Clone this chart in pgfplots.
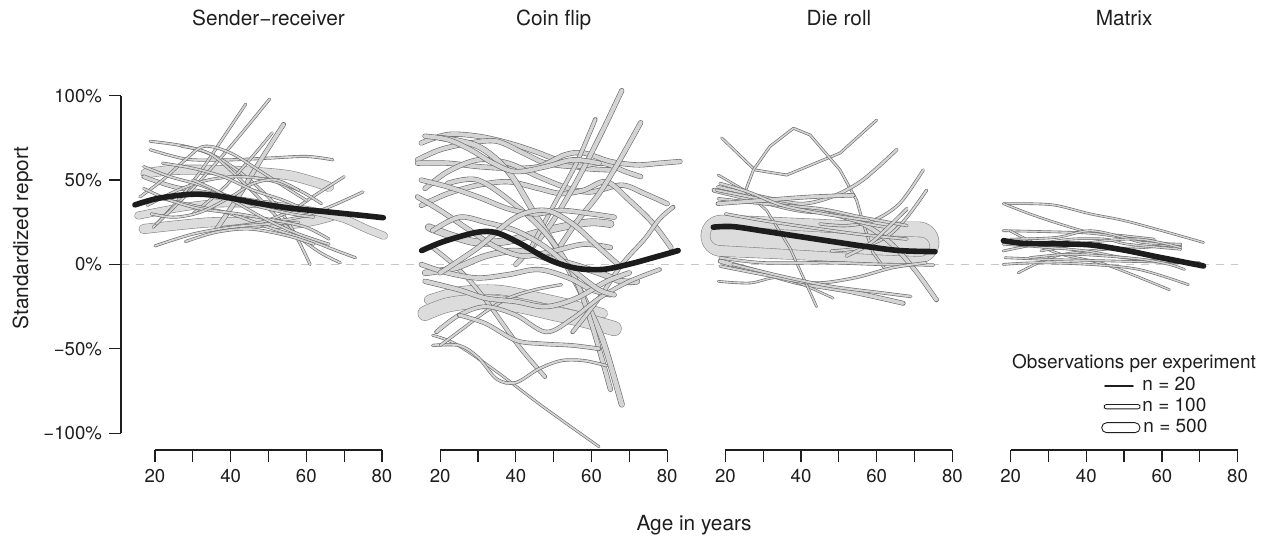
\documentclass[border=0pt]{standalone}
\usepackage{fontspec}
\setmainfont{TeX Gyre Heros}
\usepackage{pgfplots}
\pgfplotsset{compat=1.18}

\definecolor{tubeedge}{RGB}{105,105,105}
\definecolor{tubefill}{RGB}{212,212,212}
\definecolor{bigedge}{RGB}{135,135,135}
\definecolor{bigfill}{RGB}{220,220,220}
\definecolor{trend}{RGB}{28,28,28}
\definecolor{zeroline}{RGB}{200,200,200}
\definecolor{ink}{RGB}{30,30,30}

\tikzset{
  tube/.style={draw=tubeedge, line width=0.3pt, double=tubefill, double distance=#1, line cap=round, line join=round},
  bigtube/.style={draw=bigedge, line width=0.3pt, double=bigfill, double distance=#1, line cap=round, line join=round},
  trendline/.style={draw=trend, line width=2.8pt, line cap=round, line join=round},
  axisline/.style={draw=ink, line width=0.75pt},
}

% one experiment: smoothed curve / straight segments; width = tube thickness
\newcommand{\tb}[2]{\addplot[tube=#1, smooth, tension=0.55] coordinates {#2};}
\newcommand{\tbl}[2]{\addplot[tube=#1] coordinates {#2};}
\newcommand{\bigtb}[2]{\addplot[bigtube=#1, smooth, tension=0.55] coordinates {#2};}
\newcommand{\trend}[1]{\addplot[trendline, smooth, tension=0.55] coordinates {#1};}

\pgfplotsset{
  panel/.style={
    scale only axis, width=141.86pt, height=177.2pt,
    xmin=11, xmax=86, ymin=-110, ymax=100,
    axis lines*=left, axis line style={draw=none},
    clip=false,
    xtick={20,30,...,80}, xticklabels={20,,40,,60,,80},
    tick align=outside, major tick length=6pt,
    tick style={ink, line width=0.6pt},
    tick label style={font=\fontsize{9.3}{11}\selectfont, text=ink},
    ytick=\empty,
  },
}

\begin{document}
\begin{tikzpicture}[x=0.5pt, y=0.5pt]
\path[use as bounding box] (0,0) rectangle (1273,544);

% reference line at 0%
\draw[zeroline, line width=0.65pt, dash pattern=on 4pt off 3.5pt] (121,279.5) -- (1238,279.5);

% ---------------- Sender-receiver ----------------
\begin{axis}[panel, at={(60.475pt,46.95pt)}, anchor=south west,
  ytick={-100,-50,0,50,100},
  yticklabels={−100\%,−50\%,0\%,50\%,100\%}]
\bigtb{4.4pt}{(17.5,54) (25,56) (35,56) (45,55) (55,53) (62,49) (66,46)}
\bigtb{4.4pt}{(17,21) (25,23) (35,25) (45,25) (55,24) (62,26) (67,29)}
\bigtb{3.4pt}{(15.6,29) (25,33) (35,36) (45,36) (55,34) (63,31) (70,27) (76,21) (80.5,17)}
\tb{1.6pt}{(17,52) (25,46) (35,42) (45,38) (52,36)}
\tb{0.9pt}{(18.7,68) (25,64) (30,62) (40,62) (50,63) (60,64) (67,62)}
\tb{0.9pt}{(18.7,73) (28,70) (36,64) (44,52) (52,35) (57,18) (61,0)}
\tb{0.9pt}{(19.5,22) (25,35) (32,55) (38,75) (44,95)}
\tb{0.9pt}{(20.4,24) (30,45) (40,70) (50.3,98)}
\tb{1.8pt}{(36,20) (42,40) (48,62) (54,83)}
\tb{0.9pt}{(30,30) (38,45) (45,62) (51,78)}
\tb{0.9pt}{(27,70) (35,65) (45,45) (55,22) (63,8) (69,1)}
\tb{0.9pt}{(20,40) (30,35) (40,30) (50,22) (60,15) (67,9) (73,4)}
\tb{0.9pt}{(38,22) (48,25) (56,32) (63,42) (70,52)}
\tb{0.9pt}{(50,25) (58,28) (66,34) (75,43)}
\tb{0.9pt}{(20,11) (30,18) (40,22) (50,24) (58,25)}
\tb{0.9pt}{(28,13.5) (36,19) (45,21) (55,17) (62,12)}
\tb{0.9pt}{(16,40) (22,50) (28,62) (33,70) (40,66) (48,55) (55,45) (60,38)}
\tb{0.9pt}{(17,45) (24,38) (32,33) (42,30) (52,26) (60,22) (66,15)}
\tb{0.9pt}{(18,35) (26,44) (34,50) (42,52) (50,50) (58,44) (64,36)}
\tb{0.9pt}{(19,30) (25,28) (32,31) (40,40) (46,48) (52,50) (58,44)}
\tb{0.9pt}{(17,58) (24,52) (32,47) (40,40) (48,34) (56,30) (62,28)}
\tb{0.9pt}{(22,60) (30,57) (38,52) (46,44) (54,38) (60,32)}
\tb{0.9pt}{(30,50) (36,44) (42,36) (50,26) (58,18) (66,12)}
\trend{(14.7,35.3) (20.9,39.2) (29.7,41.6) (36.7,40.6) (47.3,36.2) (56.1,33.3) (64.9,31.3) (73.7,29.3) (80.35,27.7)}
\draw[axisline] (axis cs:11,-100) -- (axis cs:11,100);
\draw[axisline] (axis cs:20,-110) -- (axis cs:80,-110);
\end{axis}

% ---------------- Coin flip ----------------
\begin{axis}[panel, at={(203.075pt,46.95pt)}, anchor=south west]
\bigtb{4.4pt}{(17,-21) (25,-16) (35,-15) (45,-19) (55,-24) (63,-29)}
\bigtb{6.9pt}{(16,-29) (22,-24) (30,-22) (40,-24) (50,-29) (58,-33) (66,-38)}
\tb{2.0pt}{(15,72) (22,77) (30,76) (38,72) (45,67) (52,61) (58,57) (66,56)}
\tb{2.0pt}{(14,62) (20,68) (28,72) (35,73) (42,66) (48,60) (56,58) (63,60) (69,55) (73,52)}
\tb{2.0pt}{(14,60) (22,60) (30,58) (38,57) (46,58) (53,65) (58,66) (65,61) (72,59) (78,60) (83.4,61)}
\tb{2.0pt}{(16,45) (22,55) (30,62) (38,60) (46,52) (54,45) (60,43) (68,47) (74,42) (80,36)}
\tb{2.0pt}{(15,35) (22,42) (30,47) (38,49) (46,45) (52,42) (58,44) (64,49) (70,38) (76,25) (81,10)}
\tb{3.3pt}{(17,22) (23,17) (30,13) (38,14) (46,19) (54,23) (60,25) (65,24)}
\tb{2.0pt}{(40,0) (48,20) (55,45) (62,75) (68,103)}
\tb{2.0pt}{(50,5) (56,25) (62,42) (67,60) (73,84)}
\tb{1.6pt}{(44,10) (50,35) (56,60) (61,86)}
\tb{2.4pt}{(20,75) (30,70) (38,55) (45,30) (52,5) (58,-20) (63,-45) (68,-83)}
\tb{2.0pt}{(22,48) (30,50) (40,35) (48,18) (55,-5) (60,-35) (65,-74)}
\tb{1.6pt}{(18,10) (23,1) (28,-10) (33,-24) (41,-49) (47.7,-66.5)}
\tb{0.8pt}{(18,-42) (24,-47) (34,-62) (47,-84) (62,-108)}
\tb{1.0pt}{(18,-48) (25,-48) (30,-55) (35,-68) (40,-70) (46,-62) (52,-57) (58,-57) (64,-60)}
\tb{1.0pt}{(20,-48) (26,-38) (32,-28) (38,-20) (45,-15) (52,-12)}
\tb{1.6pt}{(55,-40) (62,-20) (68,0) (74,15) (78,27) (81.6,34)}
\tb{2.6pt}{(16,-5) (24,-2) (32,5) (40,8) (48,4) (55,0) (62,-5) (68,-10) (72,-10)}
\tb{2.0pt}{(15,0) (22,-5) (30,-8) (38,-6) (46,-3) (54,-8) (60,-15) (65,-18)}
\tb{2.0pt}{(16,-10) (25,-15) (32,-20) (40,-22) (48,-25) (56,-20) (64,-10) (70,-5)}
\tb{1.6pt}{(19,-40) (25,-30) (32,-25) (40,-30) (48,-40) (55,-32) (62,-20) (70,-10) (78,-3)}
\tb{2.0pt}{(14,40) (20,32) (28,20) (35,10) (42,5) (50,8) (58,12) (65,10)}
\tb{2.0pt}{(18,20) (25,28) (32,25) (40,20) (48,10) (56,-5) (62,-15) (66,-18)}
\tb{2.0pt}{(16,76) (22,74) (28,68) (34,60) (40,55) (48,58) (55,62) (62,60)}
\tb{2.0pt}{(15,50) (22,46) (30,40) (38,33) (45,30) (52,32) (60,30) (66,28)}
\tb{1.6pt}{(25,-30) (32,-35) (40,-45) (47,-47) (55,-48) (62,-50)}
\tb{2.0pt}{(20,-5) (30,10) (40,28) (48,32) (55,24) (62,10) (67,0)}
\trend{(15.1,8.2) (20.8,13.5) (29.6,19.0) (34.9,18.8) (41.1,12.5) (49.0,2.6) (56.1,-2.3) (63.1,-2.9) (70.2,0.3) (77.2,4.6) (82.9,8.2)}
\draw[axisline] (axis cs:20,-110) -- (axis cs:80,-110);
\end{axis}

% ---------------- Die roll ----------------
\begin{axis}[panel, at={(345.675pt,46.95pt)}, anchor=south west]
\bigtb{20.4pt}{(19,17) (30,16) (45,14.5) (60,13) (71,13)}
\bigtb{9.4pt}{(18.5,17) (30,15.5) (45,13.5) (60,11.5) (71.5,10.5)}
\tbl{0.8pt}{(19,75) (27.8,56) (36.2,53) (50.3,66) (60,85.6)}
\tbl{0.8pt}{(24.7,40) (27.4,56) (31.8,70) (38,80.7) (42.4,76.7) (50.3,56) (54.7,38) (56.5,24) (59,7) (62,-2)}
\tb{1.2pt}{(18,46) (30,40) (40,36) (48,40) (55,48) (60,57) (65.3,68)}
\tb{1.0pt}{(45,24) (52,23) (59,26) (66,36) (72.3,56)}
\tb{1.0pt}{(48,8) (56,10) (63,17) (68,28) (73.2,44)}
\tb{1.8pt}{(17,44) (30,37) (40,32) (50,30) (58,22) (64,12) (70,-3) (75.8,-21)}
\tb{1.8pt}{(18.6,2) (30,-5) (39.7,-11) (52.9,-16) (67,-23)}
\tb{0.7pt}{(18.1,-10) (26.5,-11) (35.3,-8) (48.5,-20)}
\tbl{0.7pt}{(18.1,53) (25,44) (30.9,32) (37,10) (44.1,-25)}
\tb{1.0pt}{(17.7,44) (30.9,38) (44.1,32) (55.6,25) (62.6,22)}
\tb{1.0pt}{(18.1,39) (30,36) (45,33) (56,28) (68,23)}
\tb{1.6pt}{(18,36) (30,38) (42,40) (53.8,41)}
\tb{1.0pt}{(18.6,48) (26,43) (35,35) (46,30) (58,26)}
\tb{1.0pt}{(18.6,4) (30,1) (48,1) (62,0) (75,-0.3)}
\tb{1.0pt}{(18.6,-1) (30,-6) (43,-11) (54,-8) (64,-2) (73,1)}
\tb{1.0pt}{(22,0) (35,-7) (48,-13) (62,-17) (69,-19)}
\tb{1.0pt}{(20,30) (30,26) (42,22) (55,18) (68,15)}
\tb{1.2pt}{(52,5) (58,12) (63,22) (68,33)}
\trend{(16.8,22.1) (22.1,22.4) (30.9,19.5) (39.7,16.5) (48.5,13.5) (57.3,10.6) (66.2,8.2) (75.4,7.6)}
\draw[axisline] (axis cs:20,-110) -- (axis cs:80,-110);
\end{axis}

% ---------------- Matrix ----------------
\begin{axis}[panel, at={(488.275pt,46.95pt)}, anchor=south west]
\tb{0.7pt}{(18.1,36) (25,36) (32,35) (41,30) (50,26) (60,20) (71,13)}
\tb{0.7pt}{(18.1,36) (25,30) (33,24) (41,19) (50,17) (58,15)}
\tb{0.7pt}{(18,20) (28,19.5) (41,18.5) (51,15.5) (65,11)}
\tb{0.7pt}{(19.8,20) (32,7) (45,0) (62,-15)}
\tb{0.7pt}{(22,-5) (32,5) (45,9) (55,10) (65,12)}
\tb{0.7pt}{(18,8) (27,12) (36,15) (45,15) (51,12) (65,9)}
\tb{0.7pt}{(18.5,4) (30,3) (48,2) (66,1) (71,0)}
\tb{0.7pt}{(18,0) (27,1) (41,0) (54,-3) (67,-12)}
\tb{0.7pt}{(20,15) (32,16) (41,20) (50,16) (55,13) (65,12)}
\tb{0.7pt}{(28,8) (41,13) (54,15) (65,10)}
\tb{0.7pt}{(18,12) (30,10) (40,8) (50,4) (60,2) (70,1)}
\tb{0.7pt}{(25,4) (35,6) (45,5) (55,3) (62,0) (66,-3)}
\trend{(18.1,14.1) (23.4,12.5) (32.2,12.2) (41.0,11.6) (49.8,8.6) (58.6,4.6) (71.0,-0.9)}
\draw[axisline] (axis cs:20,-110) -- (axis cs:80,-110);
\end{axis}

% panel titles and axis titles
\begin{scope}[every node/.style={font=\fontsize{10.4}{12}\selectfont, text=ink, inner sep=0pt}]
\node[anchor=base] at (268.5,518.5) {Sender−receiver};
\node[anchor=base] at (553.7,518.5) {Coin flip};
\node[anchor=base] at (838.9,518.5) {Die roll};
\node[anchor=base] at (1124.1,518.5) {Matrix};
\node[anchor=base] at (694,13) {Age in years};
\node[anchor=base, rotate=90] at (28,306) {Standardized report};
\end{scope}

% key for tube thickness
\begin{scope}[every node/.style={font=\fontsize{9.5}{11}\selectfont, text=ink, inner sep=0pt}]
\node[anchor=base] at (1134,175) {Observations per experiment};
\draw[ink, line width=0.8pt, line cap=round] (1105,158) -- (1133,158);
\draw[ink, line width=0.4pt, fill=white, rounded corners=1.1pt] (1104.3,135.1) rectangle (1140,139.5);
\draw[ink, line width=0.45pt, fill=white, rounded corners=2.5pt] (1101.7,111.3) rectangle (1140,121.3);
\node[anchor=base west] at (1142,153) {n = 20};
\node[anchor=base west] at (1142,132) {n = 100};
\node[anchor=base west] at (1143,111) {n = 500};
\end{scope}
\end{tikzpicture}
\end{document}
